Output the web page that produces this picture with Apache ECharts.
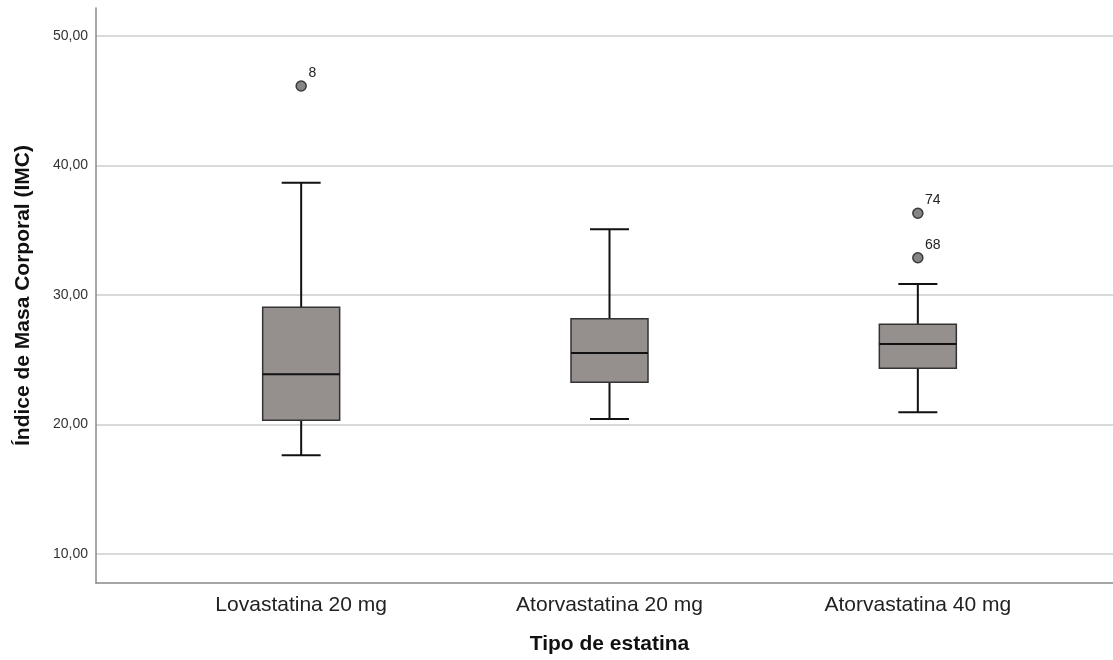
<!DOCTYPE html>
<html>
<head>
<meta charset="utf-8">
<script src="https://cdn.jsdelivr.net/npm/echarts@6/dist/echarts.min.js"></script>
<style>
  html, body { margin: 0; padding: 0; background: #fff; }
  #main { width: 1113px; height: 660px; }
</style>
</head>
<body>
<div id="main"></div>
<script>
// datos (IMC por tipo de estatina)
const categories = ['Lovastatina 20 mg', 'Atorvastatina 20 mg', 'Atorvastatina 40 mg']
const whiskerLow = [17.62, 20.42, 20.94]
const q1 = [20.32, 23.26, 24.34]
const median = [23.88, 25.52, 26.22]
const q3 = [29.05, 28.17, 27.74]
const whiskerHigh = [38.67, 35.07, 30.85]
// [categoría, valor, caso]
const outliers = [
  [0, 46.14, '8'],
  [2, 36.31, '74'],
  [2, 32.88, '68']
]
const yTicks = [10, 20, 30, 40, 50]

const FONT = '"Liberation Sans", Arial, sans-serif'
const BOX_W = 77
const CAP_W = 39

const boxData = categories.map((c, i) => [i, whiskerLow[i], q1[i], median[i], q3[i], whiskerHigh[i]])

function renderBox(params, api) {
  const i = api.value(0)
  const x = api.coord([i, api.value(3)])[0]
  const yLow = api.coord([i, api.value(1)])[1]
  const yQ1 = api.coord([i, api.value(2)])[1]
  const yMed = api.coord([i, api.value(3)])[1]
  const yQ3 = api.coord([i, api.value(4)])[1]
  const yHigh = api.coord([i, api.value(5)])[1]
  const lineStyle = { stroke: '#111', lineWidth: 2 }
  return {
    type: 'group',
    children: [
      { type: 'line', shape: { x1: x, y1: yQ3, x2: x, y2: yHigh }, style: lineStyle },
      { type: 'line', shape: { x1: x, y1: yQ1, x2: x, y2: yLow }, style: lineStyle },
      { type: 'line', shape: { x1: x - CAP_W / 2, y1: yHigh, x2: x + CAP_W / 2, y2: yHigh }, style: lineStyle },
      { type: 'line', shape: { x1: x - CAP_W / 2, y1: yLow, x2: x + CAP_W / 2, y2: yLow }, style: lineStyle },
      {
        type: 'rect',
        shape: { x: x - BOX_W / 2, y: yQ3, width: BOX_W, height: yQ1 - yQ3 },
        style: { fill: '#958f8e', stroke: '#333', lineWidth: 1.5 }
      },
      { type: 'line', shape: { x1: x - BOX_W / 2, y1: yMed, x2: x + BOX_W / 2, y2: yMed }, style: lineStyle }
    ]
  }
}

const myChart = echarts.init(document.getElementById('main'))

myChart.setOption({
  animation: false,
  textStyle: { fontFamily: FONT },
  grid: [
    // marco (ejes)
    { left: 96, right: 0, top: 8, bottom: 77 },
    // líneas de referencia y etiquetas
    { left: 96, right: 0, top: 36, bottom: 106 },
    // cajas
    { left: 147, right: 41, top: 36, bottom: 106 }
  ],
  xAxis: [
    {
      gridIndex: 0, type: 'value', min: 0, max: 1,
      axisLine: { show: true, lineStyle: { color: '#888', width: 1.5 } },
      axisTick: { show: false }, axisLabel: { show: false }, splitLine: { show: false }
    },
    {
      gridIndex: 1, type: 'value', min: 0, max: 1, show: false
    },
    {
      gridIndex: 2, type: 'category', data: categories,
      axisLine: { show: false }, axisTick: { show: false },
      axisLabel: { margin: 41, fontSize: 21, color: '#222', fontFamily: FONT },
      name: 'Tipo de estatina', nameLocation: 'middle', nameGap: 80,
      nameTextStyle: { fontSize: 21, fontWeight: 'bold', color: '#111', fontFamily: FONT }
    }
  ],
  yAxis: [
    {
      gridIndex: 0, type: 'value', min: 0, max: 1,
      axisLine: { show: true, lineStyle: { color: '#888', width: 1.5 } },
      axisTick: { show: false }, axisLabel: { show: false }, splitLine: { show: false },
      name: 'Índice de Masa Corporal (IMC)', nameLocation: 'middle', nameGap: 62,
      nameTextStyle: { fontSize: 21, fontWeight: 'bold', color: '#111', fontFamily: FONT }
    },
    {
      gridIndex: 1, type: 'value', min: yTicks[0], max: yTicks[yTicks.length - 1], interval: 10,
      axisLine: { show: false }, axisTick: { show: false },
      axisLabel: {
        margin: 8, fontSize: 14, color: '#333', fontFamily: FONT,
        formatter: (v) => v.toFixed(2).replace('.', ',')
      },
      splitLine: { show: true, lineStyle: { color: '#cccccc', width: 1.5 } }
    },
    {
      gridIndex: 2, type: 'value', min: yTicks[0], max: yTicks[yTicks.length - 1], show: false
    }
  ],
  series: [
    {
      type: 'custom',
      xAxisIndex: 2,
      yAxisIndex: 2,
      renderItem: renderBox,
      encode: { x: 0, y: [1, 2, 3, 4, 5] },
      data: boxData,
      clip: false
    },
    {
      type: 'scatter',
      xAxisIndex: 2,
      yAxisIndex: 2,
      symbolSize: 10,
      itemStyle: { color: '#858585', borderColor: '#3a3a3a', borderWidth: 1.5, opacity: 1 },
      label: {
        show: true,
        position: [13, -14],
        fontSize: 14,
        color: '#222',
        fontFamily: FONT,
        formatter: (p) => p.data[2]
      },
      data: outliers
    }
  ]
})

window.addEventListener('resize', () => {
  myChart.resize()
})
</script>
</body>
</html>
